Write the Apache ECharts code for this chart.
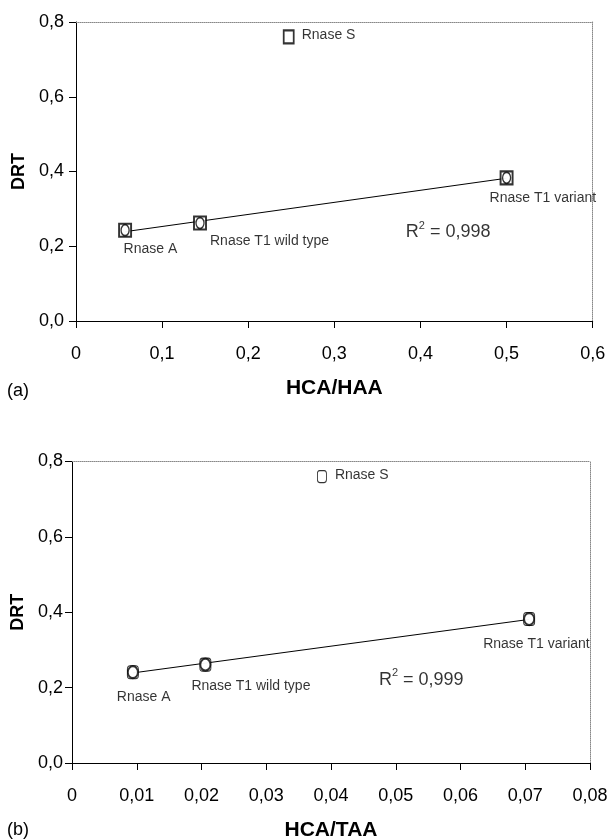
<!DOCTYPE html>
<html>
<head>
<meta charset="utf-8">
<script src="https://cdn.jsdelivr.net/npm/echarts@6/dist/echarts.min.js"></script>
<style>
html,body{margin:0;padding:0;background:#fff;}
#chart{width:607px;height:839px;}
</style>
</head>
<body>
<div id="chart"></div>
<script>
// ---- data ----
const categories = ['Rnase A', 'Rnase T1 wild type', 'Rnase T1 variant', 'Rnase S'];
const hcaHaa = [0.057, 0.144, 0.500, 0.247];
const drtA   = [0.243, 0.262, 0.383, 0.760];
const hcaTaa = [0.0094, 0.0206, 0.0706, 0.0386];
const drtB   = [0.241, 0.261, 0.382, 0.760];
// trendline end points
const trendAx = [0.057, 0.500];
const trendAy = [0.239, 0.382];
const trendBx = [0.0094, 0.0706];
const trendBy = [0.239, 0.381];
const rSquared = ['0,998', '0,999'];
const rPosA = [0.383, 0.242];
const rPosB = [0.0474, 0.225];
const yTicks = ['0,0', '0,2', '0,4', '0,6', '0,8'];
const xTicksA = ['0', '0,1', '0,2', '0,3', '0,4', '0,5', '0,6'];
const xTicksB = ['0', '0,01', '0,02', '0,03', '0,04', '0,05', '0,06', '0,07', '0,08'];
const onTrend = [true, true, true, false];

// ---- style (label offsets in px relative to marker centre) ----
const labelOffA = [[-1.5, 18.5], [10, 18.5], [-17, 20], [13, -1.7]];
const labelOffB = [[-16, 24.5], [-14, 22], [-46, 25], [13, -1.6]];

const FONT = '"Liberation Sans", Arial, Helvetica, sans-serif';

function pts(xs, ys, offs, filter) {
  const out = [];
  for (let i = 0; i < xs.length; i++) {
    if (filter && !filter[i]) continue;
    const item = { name: categories[i], value: [xs[i], ys[i]] };
    if (offs) item.label = { offset: offs[i] };
    out.push(item);
  }
  return out;
}
function line(xs, ys) { return xs.map((x, i) => [x, ys[i]]); }

const yAxisCommon = (gi, gap) => ({
  gridIndex: gi, type: 'value', position: 'left', min: 0, max: 0.8, interval: 0.2,
  name: 'DRT', nameLocation: 'middle', nameGap: gap,
  nameTextStyle: { fontFamily: FONT, fontSize: 18, fontWeight: 'bold', color: '#000' },
  axisLine: { show: true, onZero: false, lineStyle: { color: '#000', width: 1 } },
  axisTick: { show: true, length: 7, lineStyle: { color: '#000' } },
  axisLabel: { fontFamily: FONT, fontSize: 18, color: '#000', margin: gi === 0 ? 12 : 9,
    formatter: (v) => yTicks[Math.round(v / 0.2)] },
  splitLine: { show: false }
});
const topAxis = (gi, max, interval) => ({
  gridIndex: gi, type: 'value', position: 'top', min: 0, max: max, interval: interval,
  axisLine: { show: true, onZero: false, lineStyle: { color: '#888', width: 1, type: 'dotted' } },
  axisTick: { show: false }, axisLabel: { show: false }, splitLine: { show: false }
});
const rightAxis = (gi) => ({
  gridIndex: gi, type: 'value', position: 'right', min: 0, max: 0.8, interval: 0.2,
  axisLine: { show: true, onZero: false, lineStyle: { color: '#888', width: 1, type: 'dotted' } },
  axisTick: { show: false }, axisLabel: { show: false }, splitLine: { show: false }
});

const squareStyle = { color: '#fff', borderColor: '#000', borderWidth: 2 };
const ellipseStyle = { color: '#fff', borderColor: '#000', borderWidth: 1.5 };
const labelStyle = { show: true, position: 'inside', align: 'left', verticalAlign: 'middle',
  formatter: '{b}', fontFamily: FONT, fontSize: 14, color: '#000' };

function rLabel(txt) {
  return { show: true, position: 'inside', align: 'left', verticalAlign: 'middle',
    formatter: '{r|R}{s|2}{r| = ' + txt + '}',
    rich: {
      r: { fontFamily: FONT, fontSize: 18, color: '#000', verticalAlign: 'bottom' },
      s: { fontFamily: FONT, fontSize: 11, color: '#000', verticalAlign: 'top', padding: [0, 0, 10, 0] }
    } };
}

const titleStyle = { fontFamily: FONT, fontSize: 18, fontWeight: 'normal', color: '#000' };

const option = {
  backgroundColor: '#fff',
  animation: false,
  title: [
    { text: '(a)', left: 7, top: 382, padding: 0, textStyle: titleStyle },
    { text: '(b)', left: 7, top: 821, padding: 0, textStyle: titleStyle }
  ],
  grid: [
    { left: 76, top: 22, width: 516.7, height: 299, containLabel: false, outerBoundsMode: 'none' },
    { left: 72, top: 461.5, width: 518, height: 301.5, containLabel: false, outerBoundsMode: 'none' }
  ],
  xAxis: [
    { gridIndex: 0, type: 'value', position: 'bottom', min: 0, max: 0.6, interval: 0.1,
      name: 'HCA/HAA', nameLocation: 'middle', nameGap: 57,
      nameTextStyle: { fontFamily: FONT, fontSize: 21, fontWeight: 'bold', color: '#000' },
      axisLine: { show: true, onZero: false, lineStyle: { color: '#000', width: 1 } },
      axisTick: { show: true, length: 7, lineStyle: { color: '#000' } },
      axisLabel: { fontFamily: FONT, fontSize: 18, color: '#000', margin: 24,
        formatter: (v) => xTicksA[Math.round(v / 0.1)] },
      splitLine: { show: false } },
    topAxis(0, 0.6, 0.1),
    { gridIndex: 1, type: 'value', position: 'bottom', min: 0, max: 0.08, interval: 0.01,
      name: 'HCA/TAA', nameLocation: 'middle', nameGap: 57,
      nameTextStyle: { fontFamily: FONT, fontSize: 21, fontWeight: 'bold', color: '#000' },
      axisLine: { show: true, onZero: false, lineStyle: { color: '#000', width: 1 } },
      axisTick: { show: true, length: 7, lineStyle: { color: '#000' } },
      axisLabel: { fontFamily: FONT, fontSize: 18, color: '#000', margin: 24,
        formatter: (v) => xTicksB[Math.round(v / 0.01)] },
      splitLine: { show: false } },
    topAxis(1, 0.08, 0.01)
  ],
  yAxis: [
    yAxisCommon(0, 43),
    rightAxis(0),
    yAxisCommon(1, 43),
    rightAxis(1)
  ],
  series: [
    // ---- chart (a) ----
    { type: 'line', xAxisIndex: 0, yAxisIndex: 0, data: line(trendAx, trendAy), symbol: 'none',
      lineStyle: { color: '#000', width: 1 }, silent: true, z: 2 },
    { type: 'scatter', xAxisIndex: 0, yAxisIndex: 0, data: pts(hcaHaa, drtA, labelOffA),
      symbol: 'rect', symbolSize: (v, p) => p.dataIndex === 3 ? [10, 13] : [12, 13],
      itemStyle: squareStyle, label: labelStyle, z: 3 },
    { type: 'scatter', xAxisIndex: 0, yAxisIndex: 0, data: pts(hcaHaa, drtA, null, onTrend),
      symbol: 'circle', symbolSize: [8, 11], itemStyle: ellipseStyle, z: 4 },
    { type: 'scatter', xAxisIndex: 0, yAxisIndex: 0, data: [rPosA], symbolSize: 0,
      label: rLabel(rSquared[0]), z: 5 },
    // ---- chart (b) ----
    { type: 'line', xAxisIndex: 2, yAxisIndex: 2, data: line(trendBx, trendBy), symbol: 'none',
      lineStyle: { color: '#000', width: 1 }, silent: true, z: 2 },
    { type: 'scatter', xAxisIndex: 2, yAxisIndex: 2, data: pts(hcaTaa, drtB, labelOffB),
      symbol: 'roundRect', symbolSize: (v, p) => p.dataIndex === 3 ? [9, 12] : [11, 13],
      itemStyle: { color: '#fff', borderColor: '#000', borderWidth: 1 }, label: labelStyle, z: 3 },
    { type: 'scatter', xAxisIndex: 2, yAxisIndex: 2, data: pts(hcaTaa, drtB, null, onTrend),
      symbol: 'circle', symbolSize: [10, 12], itemStyle: { color: '#fff', borderColor: '#000', borderWidth: 2 }, z: 4 },
    { type: 'scatter', xAxisIndex: 2, yAxisIndex: 2, data: [rPosB], symbolSize: 0,
      label: rLabel(rSquared[1]), z: 5 }
  ]
};

const chart = echarts.init(document.getElementById('chart'), null, { renderer: 'canvas' });
chart.setOption(option);
</script>
</body>
</html>
